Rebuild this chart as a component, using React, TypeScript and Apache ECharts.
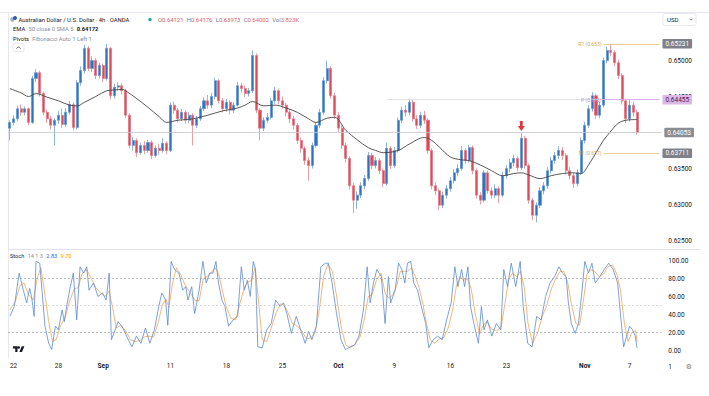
import React, { useEffect, useRef } from 'react';
import * as echarts from 'echarts';

// ---------- data ----------
const firstOpen = 0.6406;
const closes = [
  0.6414,0.6419,0.6433,0.6428,0.6433,0.6414,0.6475,0.6483,0.6454,0.6428,
  0.6419,0.6410,0.6417,0.6424,0.6411,0.6428,0.6439,0.6407,0.6469,0.6486,
  0.6517,0.6489,0.6500,0.6479,0.6493,0.6475,0.6517,0.6451,0.6463,0.6465,
  0.6458,0.6424,0.6382,0.6389,0.6372,0.6382,0.6375,0.6386,0.6368,0.6378,
  0.6375,0.6385,0.6375,0.6438,0.6431,0.6419,0.6428,0.6417,0.6424,0.6410,
  0.6419,0.6433,0.6444,0.6438,0.6450,0.6472,0.6444,0.6433,0.6442,0.6431,
  0.6438,0.6465,0.6461,0.6454,0.6458,0.6507,0.6431,0.6406,0.6417,0.6421,
  0.6444,0.6458,0.6444,0.6438,0.6428,0.6419,0.6410,0.6389,0.6378,0.6361,
  0.6354,0.6382,0.6410,0.6428,0.6472,0.6489,0.6451,0.6424,0.6406,0.6382,
  0.6364,0.6326,0.6306,0.6313,0.6326,0.6336,0.6368,0.6354,0.6361,0.6347,
  0.6329,0.6378,0.6354,0.6375,0.6417,0.6431,0.6428,0.6442,0.6419,0.6410,
  0.6424,0.6417,0.6375,0.6326,0.6319,0.6299,0.6313,0.6322,0.6333,0.6344,
  0.6350,0.6375,0.6361,0.6379,0.6347,0.6313,0.6306,0.6344,0.6319,0.6313,
  0.6322,0.6313,0.6340,0.6350,0.6358,0.6364,0.6351,0.6392,0.6354,0.6306,
  0.6285,0.6299,0.6319,0.6326,0.6347,0.6361,0.6368,0.6375,0.6368,0.6347,
  0.6340,0.6329,0.6344,0.6389,0.6410,0.6433,0.6451,0.6424,0.6438,0.6500,
  0.6514,0.6511,0.6497,0.6479,0.6444,0.6419,0.6438,0.6428,0.6400,
];
const highs = [
  0.6417,0.6424,0.6437,0.6439,0.6436,0.6435,0.6479,0.6488,0.6486,0.6457,
  0.6432,0.6423,0.6420,0.6430,0.6433,0.6434,0.6444,0.6442,0.6473,0.6492,
  0.6522,0.6520,0.6506,0.6503,0.6497,0.6496,0.6523,0.6519,0.6468,0.6470,
  0.6468,0.6461,0.6427,0.6394,0.6392,0.6386,0.6388,0.6390,0.6389,0.6382,
  0.6384,0.6392,0.6388,0.6442,0.6443,0.6434,0.6433,0.6431,0.6428,0.6427,
  0.6423,0.6437,0.6449,0.6452,0.6455,0.6476,0.6474,0.6448,0.6447,0.6445,
  0.6442,0.6470,0.6469,0.6465,0.6462,0.6514,0.6510,0.6434,0.6421,0.6427,
  0.6448,0.6463,0.6461,0.6450,0.6441,0.6432,0.6423,0.6413,0.6393,0.6381,
  0.6366,0.6386,0.6414,0.6433,0.6477,0.6500,0.6492,0.6455,0.6428,0.6410,
  0.6386,0.6367,0.6330,0.6318,0.6331,0.6341,0.6373,0.6372,0.6366,0.6364,
  0.6350,0.6386,0.6381,0.6380,0.6421,0.6436,0.6438,0.6447,0.6445,0.6424,
  0.6429,0.6430,0.6420,0.6378,0.6331,0.6322,0.6318,0.6327,0.6338,0.6349,
  0.6356,0.6381,0.6378,0.6383,0.6382,0.6350,0.6317,0.6348,0.6347,0.6324,
  0.6328,0.6325,0.6345,0.6355,0.6363,0.6369,0.6367,0.6399,0.6395,0.6357,
  0.6309,0.6303,0.6324,0.6331,0.6352,0.6366,0.6373,0.6381,0.6380,0.6371,
  0.6352,0.6344,0.6349,0.6393,0.6415,0.6438,0.6456,0.6454,0.6443,0.6504,
  0.6519,0.6523,0.6514,0.6501,0.6482,0.6447,0.6446,0.6443,0.6432,
];
const lows = [
  0.6389,0.6410,0.6416,0.6423,0.6424,0.6410,0.6412,0.6470,0.6450,0.6424,
  0.6413,0.6404,0.6382,0.6412,0.6406,0.6408,0.6425,0.6403,0.6404,0.6465,
  0.6482,0.6485,0.6484,0.6474,0.6475,0.6470,0.6472,0.6446,0.6447,0.6458,
  0.6453,0.6420,0.6378,0.6375,0.6366,0.6369,0.6370,0.6372,0.6363,0.6365,
  0.6369,0.6372,0.6370,0.6373,0.6426,0.6414,0.6416,0.6412,0.6413,0.6382,
  0.6406,0.6416,0.6430,0.6433,0.6434,0.6446,0.6440,0.6428,0.6429,0.6425,
  0.6427,0.6436,0.6455,0.6449,0.6450,0.6455,0.6427,0.6389,0.6402,0.6413,
  0.6418,0.6440,0.6439,0.6433,0.6422,0.6413,0.6404,0.6384,0.6372,0.6355,
  0.6333,0.6350,0.6379,0.6406,0.6425,0.6468,0.6447,0.6419,0.6401,0.6377,
  0.6358,0.6321,0.6288,0.6294,0.6309,0.6321,0.6333,0.6349,0.6350,0.6342,
  0.6324,0.6326,0.6349,0.6351,0.6372,0.6413,0.6422,0.6424,0.6415,0.6405,
  0.6406,0.6412,0.6370,0.6321,0.6313,0.6292,0.6295,0.6308,0.6318,0.6329,
  0.6339,0.6347,0.6356,0.6358,0.6342,0.6308,0.6300,0.6303,0.6315,0.6308,
  0.6309,0.6302,0.6310,0.6336,0.6345,0.6353,0.6346,0.6348,0.6350,0.6301,
  0.6278,0.6275,0.6295,0.6314,0.6322,0.6343,0.6357,0.6363,0.6362,0.6342,
  0.6335,0.6323,0.6325,0.6341,0.6385,0.6406,0.6429,0.6419,0.6420,0.6435,
  0.6496,0.6506,0.6492,0.6474,0.6439,0.6413,0.6415,0.6422,0.6397,
];
// EMA 50 read at bar indices
const emaPoints: [number, number][] = [
  [0,0.6461],[3,0.6455],[5,0.6450],[7,0.6454],[10,0.6449],[13,0.6444],[16,0.6438],[18,0.6437],
  [20,0.6442],[23,0.6450],[26,0.6458],[28,0.6459],[30,0.6460],[31,0.6458],[34,0.6447],[37,0.6435],
  [40,0.6422],[42,0.6414],[45,0.6417],[49,0.6419],[53,0.6424],[57,0.6430],[61,0.6434],[63,0.6438],
  [65,0.6443],[68,0.6437],[71,0.6438],[74,0.6434],[77,0.6428],[80,0.6419],[82,0.6414],[85,0.6420],
  [87,0.6421],[90,0.6403],[93,0.6390],[96,0.6379],[98,0.6375],[100,0.6372],[104,0.6375],[107,0.6384],
  [111,0.6393],[113,0.6389],[115,0.6380],[118,0.6366],[121,0.6362],[123,0.6361],[126,0.6355],[129,0.6347],
  [132,0.6340],[135,0.6343],[137,0.6344],[139,0.6341],[142,0.6336],[145,0.6340],[148,0.6343],[151,0.6344],
  [153,0.6343],[155,0.6355],[157,0.6372],[159,0.6389],[161,0.6402],[163,0.6413],[165,0.6417],[168,0.6418],
];
// Stochastic %K (blue) and %D (orange), [bar position, value]
const stochK: [number, number][] = [
  [0,38],[1.2,49],[2.5,86],[3.6,67],[4.5,53],[5.3,69],[5.8,60],[6.5,38],[7,99],[8,97],[8.6,67],[9.4,27],
  [10.4,8],[11.2,1],[12.2,27],[13,23],[14,45],[14.6,32],[15.2,49],[16.2,71],[17,86],[17.9,34],[18.8,93],
  [19.8,86],[20.6,93],[21.2,67],[22.4,75],[23.6,60],[24.8,64],[25.8,56],[26.6,86],[27.2,12],[28.2,23],
  [29,32],[30.3,25],[31.5,14],[32.7,4],[33.9,16],[35.1,8],[36.3,25],[37.5,8],[38.7,23],[39.9,49],[40.7,64],
  [41.7,56],[42.3,28],[43.2,99],[44.1,90],[45.3,86],[46.3,67],[47.1,71],[47.7,56],[48.7,71],[49.5,41],
  [50.7,67],[51.7,99],[52.6,75],[53.5,86],[54.4,86],[55.2,99],[55.9,75],[56.8,56],[57.6,49],[58.6,27],
  [59.8,34],[61,38],[62,93],[62.8,67],[63.6,78],[64.4,60],[65.2,99],[65.8,90],[66.4,4],[67.6,3],[68.8,23],
  [70,30],[71.2,56],[72.4,49],[73.3,53],[74.2,41],[75.4,19],[76.7,38],[77.9,23],[79.1,8],[80,21],[80.9,12],
  [82.1,27],[83.3,93],[84.5,97],[85.3,97],[86.3,75],[87.5,41],[88.7,12],[89.9,1],[91.1,4],[92.3,6],[93.5,16],
  [94.7,45],[95.7,93],[96.5,53],[97.4,75],[98.3,90],[99.5,82],[100.5,30],[101.4,82],[102,53],[103.2,67],
  [104.1,97],[105,90],[105.8,75],[106.5,97],[107.4,99],[108.2,75],[109.2,67],[110.2,49],[111.4,30],[112.2,3],
  [113.4,12],[114.6,16],[115.8,12],[117,34],[118.2,53],[119.2,93],[120,71],[121,90],[121.8,71],[122.7,93],
  [123.4,49],[124.3,30],[125.5,8],[126.3,49],[127,23],[127.9,34],[129.1,16],[130.3,30],[131.5,23],[132.3,90],
  [133.3,71],[134.3,97],[135.5,71],[136.7,99],[137.5,49],[138.7,8],[139.9,4],[141.1,38],[142.3,34],[143.5,60],
  [144.7,75],[145.9,82],[147.1,93],[148,86],[149,82],[149.6,53],[150.4,30],[151.4,19],[152.3,30],[153.2,64],
  [154,99],[155,86],[155.9,97],[156.8,75],[158,82],[159.2,90],[160.4,97],[161.6,90],[162.8,75],[163.7,34],
  [164.4,4],[165.2,16],[166,27],[166.8,23],[167.5,16],[168,2.83],
];
const stochD: [number, number][] = [
  [0,45],[1.5,55],[2.7,72],[3.8,75],[5,62],[6.3,56],[7.3,80],[8.3,92],[9.3,65],[10.4,32],[11.4,10],[12.4,12],
  [13.5,27],[14.8,37],[16,55],[17.2,68],[18.3,70],[19.3,85],[20.6,90],[21.8,80],[23,70],[24.3,64],[25.5,60],
  [26.6,66],[27.5,48],[28.5,25],[29.8,28],[31,22],[32.3,12],[33.5,10],[34.8,11],[36,15],[37.3,16],[38.5,15],
  [39.8,32],[40.8,50],[41.8,57],[42.6,48],[43.6,75],[44.6,92],[45.8,84],[47,72],[48.2,65],[49.5,56],[50.7,55],
  [51.8,80],[52.8,82],[53.8,86],[55,92],[56,84],[57,65],[58,48],[59.2,36],[60.5,34],[61.8,55],[62.8,70],
  [63.8,76],[64.8,78],[65.7,92],[66.6,55],[67.6,12],[68.8,10],[70,25],[71.3,42],[72.5,52],[73.5,50],[74.5,42],
  [75.7,30],[77,27],[78.2,22],[79.4,13],[80.6,14],[81.8,20],[83,48],[84,82],[85.2,96],[86.4,88],[87.6,58],
  [88.8,25],[90,6],[91.2,3],[92.5,7],[93.8,15],[95,36],[96,60],[97,62],[98.2,78],[99.4,86],[100.6,62],
  [101.6,58],[102.6,62],[103.6,72],[104.6,88],[105.6,88],[106.6,88],[107.6,92],[108.6,82],[109.6,70],
  [110.6,52],[111.6,30],[112.6,12],[113.8,8],[115,13],[116.2,14],[117.4,25],[118.6,45],[119.6,72],[120.6,82],
  [121.6,78],[122.6,80],[123.6,68],[124.6,42],[125.8,18],[126.8,28],[127.8,32],[129,24],[130.4,22],[131.6,26],
  [132.6,52],[133.6,78],[134.6,86],[135.8,82],[136.8,88],[137.8,70],[138.8,30],[140,8],[141.4,20],[142.6,38],
  [143.8,50],[145,68],[146.2,80],[147.4,88],[148.4,88],[149.4,76],[150.4,52],[151.6,30],[152.6,28],[153.6,55],
  [154.6,85],[155.6,90],[156.6,88],[157.8,82],[159,85],[160.2,93],[161.4,95],[162.6,85],[163.6,66],[164.6,30],
  [165.6,10],[166.6,20],[167.6,22],[168,9.7],
];
const dateTicks: [number, string][] = [
  [1,'22'],[13,'28'],[25,'Sep'],[43,'11'],[58,'18'],[73,'25'],[88,'Oct'],
  [103,'9'],[118,'16'],[133,'23'],[154,'Nov'],[166,'7'],
];
const monthNames = ['Sep','Oct','Nov'];
const pivotNames = ['R1 (0.653)', 'P (0.645)', 'S1 (0.637)'];
const pivotLevels = [0.65231, 0.64455, 0.63711];
const pivotStartBar = 159;
const prevPivotStartBar = 101;
const lastPrice = 0.64053;
const signalBar = 137;
const signalPrice = 0.6409;
const stochLevels = [80, 50, 20];
const title = 'Australian Dollar / U.S. Dollar · 4h · OANDA';
const ohlcLabels = ['O', 'H', 'L', 'C'];
const ohlcValues = ['0.64121', '0.64176', '0.63973', '0.64002'];
const volValue = '3.823K';
const emaLegendValue = '0.64172';
const stochLegendValues = ['2.83', '9.70'];

// ---------- layout ----------
const N_CATS = 175;
const SLOT = 11.2 / 3;
const PLOT_L = 8;
const PLOT_W = N_CATS * SLOT;
const FONT = 'Roboto, "Noto Sans", sans-serif';

echarts.graphic.registerShape(
  'tvlogo',
  echarts.graphic.extendPath(
    'M14 22H7V11H0V4h14v18zM28 22h-8l7.5-18h8L28 22zM22 8a4 4 0 1 1-8 0 4 4 0 0 1 8 0z',
    {}
  )
);

export default function App() {
  const ref = useRef<HTMLDivElement>(null);
  useEffect(() => {
    const el = ref.current;
    if (!el) return;
    const chart = echarts.init(el, null, { renderer: 'svg' });

    const opens = closes.map((c, i) => (i === 0 ? firstOpen : closes[i - 1]));
    const candleData = closes.map((c, i) => [opens[i], c, lows[i], highs[i]]);
    const tickMap = new Map<number, string>(dateTicks);
    const categories = Array.from({ length: N_CATS }, (_, i) => String(i));

    const boxLabel = (text: string, bg: string, fg: string) => ({
      show: true,
      position: 'end',
      formatter: text,
      backgroundColor: bg,
      color: fg,
      padding: [1.5, 3, 1, 3],
      fontSize: 6.5,
      fontFamily: FONT,
      borderRadius: 1,
      distance: 3,
    });
    const pivotColors = ['#e3cc92', '#d9a8e2', '#e3cc92'];
    const pivotTextColors = ['#c9a85c', '#c58fd2', '#c9a85c'];
    const pivotBoxBg = ['#7e8189', '#dcb8e6', '#7e8189'];
    const pivotBoxFg = ['#ffffff', '#4a2458', '#ffffff'];

    const markLineData: any[] = [];
    markLineData.push([
      { coord: [prevPivotStartBar, pivotLevels[1]], lineStyle: { color: '#d9dbe0', width: 0.8, type: 'solid' }, label: { show: false } },
      { coord: [pivotStartBar, pivotLevels[1]] },
    ]);
    pivotLevels.forEach((lv, k) => {
      markLineData.push([
        { coord: [pivotStartBar, lv], lineStyle: { color: pivotColors[k], width: 0.9, type: 'solid' }, label: boxLabel(lv.toFixed(5), pivotBoxBg[k], pivotBoxFg[k]) },
        { coord: [N_CATS - 1, lv] },
      ]);
      markLineData.push([
        { coord: [pivotStartBar, lv], lineStyle: { color: 'rgba(0,0,0,0)', width: 1, type: 'solid' }, label: { show: true, position: 'start', formatter: pivotNames[k], color: pivotTextColors[k], fontSize: 5, fontFamily: FONT, distance: 2 } },
        { coord: [N_CATS - 1, lv] },
      ]);
    });
    markLineData.push({
      yAxis: lastPrice,
      lineStyle: { color: '#c4c6cc', width: 0.8, type: 'solid' },
      label: boxLabel(lastPrice.toFixed(5), '#8a8d94', '#ffffff'),
    });

    const option: any = {
      animation: false,
      backgroundColor: '#ffffff',
      textStyle: { fontFamily: FONT },
      grid: [
        { left: PLOT_L, top: 24.5, width: PLOT_W, height: 252 },
        { left: PLOT_L, top: 260.5, width: PLOT_W, height: 90 },
      ],
      xAxis: [
        { type: 'category', gridIndex: 0, data: categories, boundaryGap: true, show: false },
        {
          type: 'category', gridIndex: 1, data: categories, boundaryGap: true,
          axisLine: { show: false }, axisTick: { show: false }, splitLine: { show: false },
          axisLabel: {
            interval: (index: number) => tickMap.has(index),
            formatter: (_v: string, index: number) => {
              const t = tickMap.get(index) || '';
              return monthNames.includes(t) ? `{m|${t}}` : t;
            },
            color: '#131722', fontSize: 6.5, fontFamily: FONT, margin: 12,
            rich: { m: { fontWeight: 'bold', fontSize: 6.5, color: '#131722', fontFamily: FONT } },
          },
        },
        { type: 'value', gridIndex: 1, min: -0.5, max: N_CATS - 0.5, show: false, position: 'top' },
      ],
      yAxis: [
        {
          type: 'value', gridIndex: 0, position: 'right', min: 0.62, max: 0.655, interval: 0.005,
          splitLine: { show: false }, axisLine: { show: false }, axisTick: { show: false },
          axisLabel: {
            color: '#131722', fontSize: 6.5, fontFamily: FONT, margin: 7,
            formatter: (v: number) => (v < 0.6245 || v > 0.6505 ? '' : v.toFixed(5)),
          },
        },
        {
          type: 'value', gridIndex: 1, position: 'right', min: 0, max: 100, interval: 20,
          splitLine: { show: false }, axisLine: { show: false }, axisTick: { show: false },
          axisLabel: { color: '#131722', fontSize: 6.5, fontFamily: FONT, margin: 7, formatter: (v: number) => v.toFixed(2) },
        },
      ],
      series: [
        {
          type: 'candlestick', xAxisIndex: 0, yAxisIndex: 0, data: candleData, barWidth: 2.6, clip: false,
          itemStyle: { color: '#2f72bd', color0: '#de4a58', borderColor: '#5b93d1', borderColor0: '#e6737f', borderWidth: 0.7 },
          markLine: { silent: true, symbol: ['none', 'none'], animation: false, data: markLineData },
          markPoint: {
            silent: true,
            data: [{
              coord: [signalBar, signalPrice],
              symbol: 'path://M3,0 L7,0 L7,6 L10,6 L5,12 L0,6 L3,6 Z',
              symbolSize: [7, 10],
              itemStyle: { color: '#e3343f' },
              label: { show: false },
            }],
          },
        },
        {
          type: 'line', xAxisIndex: 0, yAxisIndex: 0, data: emaPoints, showSymbol: false, smooth: 0.35,
          lineStyle: { color: '#454545', width: 0.9 }, z: 3,
        },
        {
          type: 'line', xAxisIndex: 2, yAxisIndex: 1, data: stochD, showSymbol: false, clip: false,
          lineStyle: { color: '#f4a456', width: 0.8 },
        },
        {
          type: 'line', xAxisIndex: 2, yAxisIndex: 1, data: stochK, showSymbol: false, clip: false,
          lineStyle: { color: '#5a8ad2', width: 0.8 },
          markLine: {
            silent: true, symbol: ['none', 'none'], label: { show: false },
            data: stochLevels.map((v) => ({
              yAxis: v,
              lineStyle: { color: v === 50 ? '#c9ccd3' : '#9ea2ab', width: 0.7, type: [2, 2] },
            })),
          },
        },
      ],
      graphic: [
        { type: 'line', shape: { x1: 0, y1: 12.5, x2: 709, y2: 12.5 }, style: { stroke: '#e6e8ee', lineWidth: 1 }, silent: true },
        { type: 'line', shape: { x1: 8, y1: 249.5, x2: 700, y2: 249.5 }, style: { stroke: '#e0e3eb', lineWidth: 1 }, silent: true },
        { type: 'line', shape: { x1: 8.5, y1: 12.5, x2: 8.5, y2: 358 }, style: { stroke: '#e6e8ee', lineWidth: 1 }, silent: true },
        { type: 'circle', shape: { cx: 12.5, cy: 19.5, r: 2.2 }, style: { fill: '#9db0cc' }, silent: true },
        { type: 'circle', shape: { cx: 15, cy: 18, r: 2 }, style: { fill: '#2f5ea8' }, silent: true },
        {
          type: 'text', x: 18.5, y: 19.5, silent: true,
          style: { text: title, fill: '#131722', fontSize: 5.9, fontFamily: FONT, verticalAlign: 'middle' },
        },
        { type: 'circle', shape: { cx: 150, cy: 19.5, r: 1.8 }, style: { fill: '#22ab94' }, silent: true },
        {
          type: 'text', x: 158, y: 19.5, silent: true,
          style: {
            text: ohlcLabels.map((l, i) => `{l|${l}}{v|${ohlcValues[i]}}`).join(' ') + ` {l|Vol}{v|${volValue}}`,
            verticalAlign: 'middle',
            rich: {
              l: { fill: '#787b86', fontSize: 5.9, fontFamily: FONT },
              v: { fill: '#e0606c', fontSize: 5.9, fontFamily: FONT },
            },
          },
        },
        {
          type: 'text', x: 13, y: 29, silent: true,
          style: {
            text: `{d|EMA} {g|50 close 0 SMA 5} {b|${emaLegendValue}}`,
            verticalAlign: 'middle',
            rich: {
              d: { fill: '#131722', fontSize: 5.8, fontFamily: FONT },
              g: { fill: '#8a8d96', fontSize: 5.8, fontFamily: FONT },
              b: { fill: '#131722', fontSize: 5.8, fontFamily: FONT, fontWeight: 'bold' },
            },
          },
        },
        {
          type: 'text', x: 13, y: 38.5, silent: true,
          style: {
            text: '{d|Pivots} {g|Fibonacci Auto 1 Left 1}',
            verticalAlign: 'middle',
            rich: {
              d: { fill: '#131722', fontSize: 5.8, fontFamily: FONT },
              g: { fill: '#8a8d96', fontSize: 5.8, fontFamily: FONT },
            },
          },
        },
        { type: 'rect', shape: { x: 13, y: 43.5, width: 11, height: 8, r: 1.5 }, style: { fill: '#ffffff', stroke: '#e0e3eb', lineWidth: 0.8 }, silent: true },
        { type: 'polyline', shape: { points: [[16.5, 48.7], [18.5, 46.7], [20.5, 48.7]] }, style: { stroke: '#131722', lineWidth: 0.7, fill: 'none' }, silent: true },
        { type: 'rect', shape: { x: 663, y: 13.5, width: 33, height: 12, r: 2 }, style: { fill: '#ffffff', stroke: '#e0e3eb', lineWidth: 0.8 }, silent: true },
        { type: 'text', x: 667, y: 19.5, silent: true, style: { text: 'USD', fill: '#131722', fontSize: 6, fontFamily: FONT, verticalAlign: 'middle' } },
        { type: 'polyline', shape: { points: [[689.5, 18.7], [691, 20.2], [692.5, 18.7]] }, style: { stroke: '#131722', lineWidth: 0.6, fill: 'none' }, silent: true },
        {
          type: 'text', x: 10, y: 255.5, silent: true,
          style: {
            text: `{d|Stoch} {g|14 1 3} {k|${stochLegendValues[0]}} {o|${stochLegendValues[1]}}`,
            verticalAlign: 'middle',
            rich: {
              d: { fill: '#131722', fontSize: 5.6, fontFamily: FONT },
              g: { fill: '#8a8d96', fontSize: 5.6, fontFamily: FONT },
              k: { fill: '#2962ff', fontSize: 5.6, fontFamily: FONT },
              o: { fill: '#ff9800', fontSize: 5.6, fontFamily: FONT },
            },
          },
        },
        { type: 'tvlogo', x: 13, y: 345, scaleX: 0.32, scaleY: 0.32, style: { fill: '#131722' }, silent: true },
        { type: 'text', x: 670, y: 366.5, silent: true, style: { text: '1', fill: '#131722', fontSize: 6.5, fontFamily: FONT, verticalAlign: 'middle', align: 'center' } },
        { type: 'text', x: 689, y: 366.5, silent: true, style: { text: '⚙', fill: '#787b86', fontSize: 7, fontFamily: '"DejaVu Sans", sans-serif', verticalAlign: 'middle', align: 'center' } },
      ],
    };
    chart.setOption(option);
    return () => chart.dispose();
  }, []);
  return (
    <div
      ref={ref}
      style={{ position: 'absolute', left: 0, top: 0, width: 709, height: 396, background: '#ffffff' }}
    />
  );
}
